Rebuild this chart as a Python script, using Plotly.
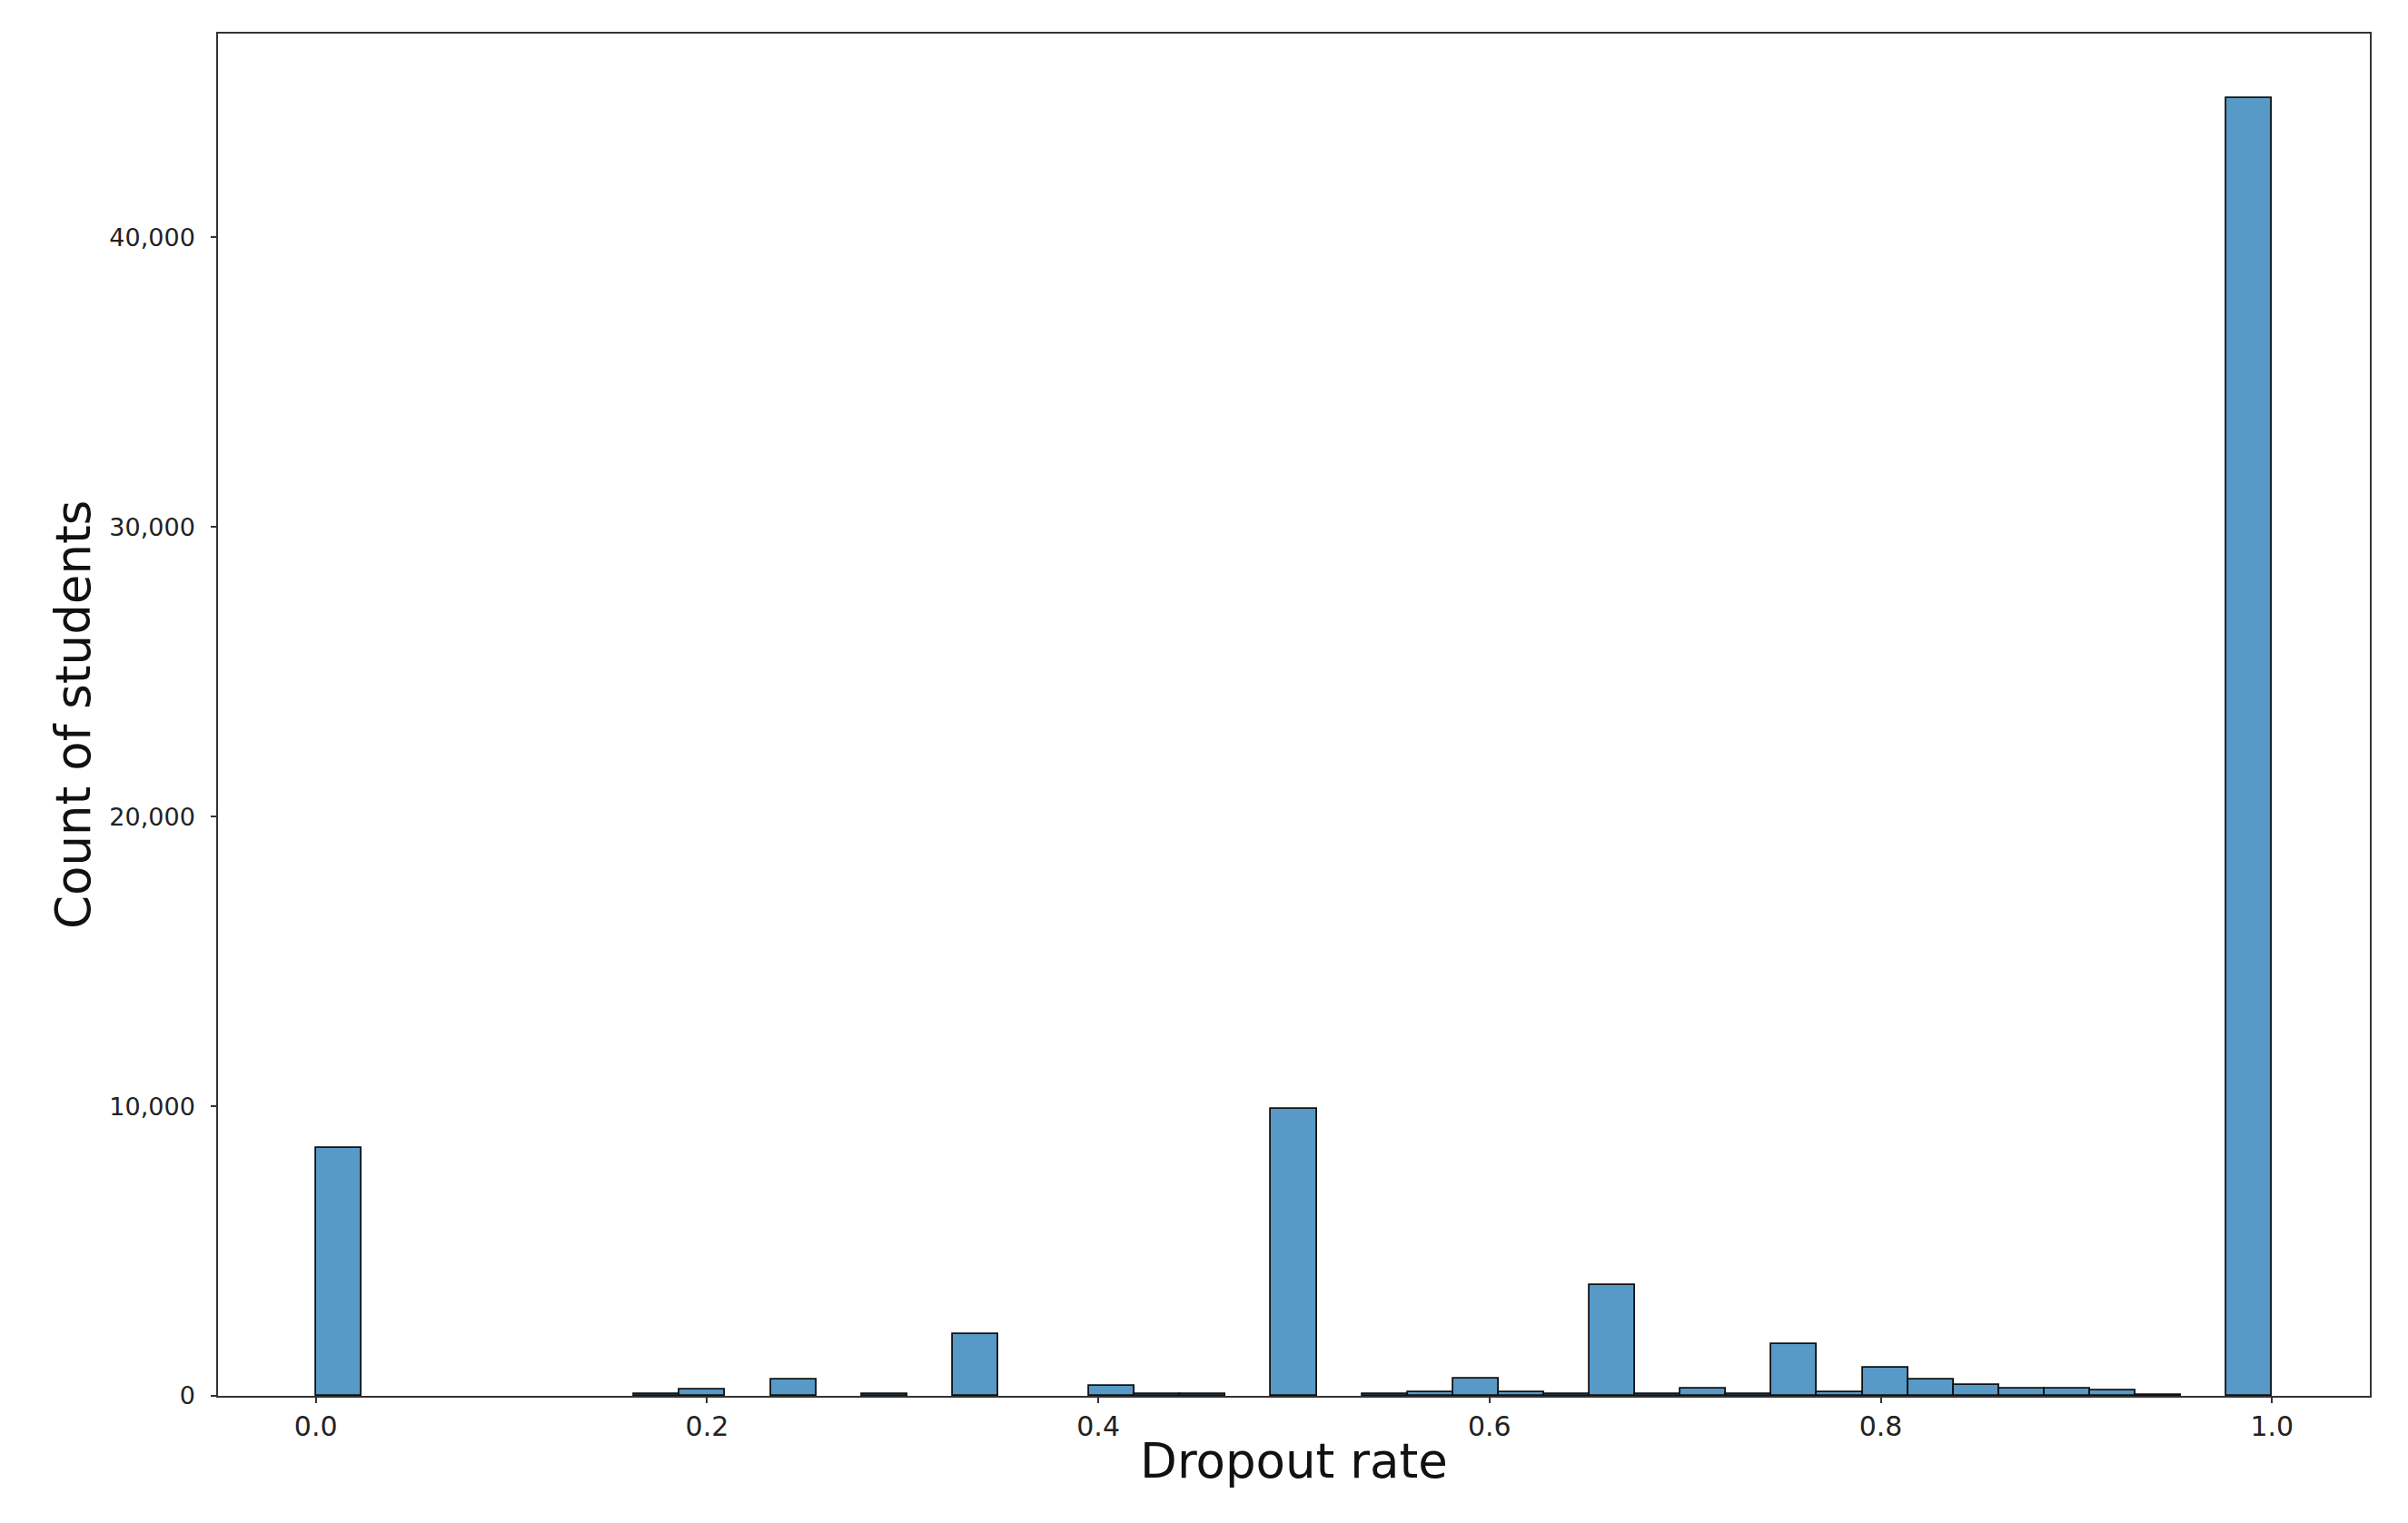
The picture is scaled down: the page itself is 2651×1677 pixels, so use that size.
import numpy as np
import plotly.graph_objects as go

# histogram of dropout rate, 43 equal bins over [0, 1]
n_bins = 43
counts = [
    8550, 0, 0, 0, 0, 0, 0, 60, 210, 0,      # bins 0-9
    580, 0, 60, 0, 2120, 0, 0, 330, 50, 50,  # bins 10-19
    0, 9920, 0, 50, 140, 590, 130, 50, 3820, 50,  # bins 20-29
    250, 50, 1800, 130, 960, 575, 385, 245, 245, 200,  # bins 30-39
    40, 0, 44800,                            # bins 40-42
]

edges = np.linspace(0, 1, n_bins + 1)
centers = (edges[:-1] + edges[1:]) / 2
bin_width = edges[1] - edges[0]
# empty bins are not drawn
heights = [c if c > 0 else None for c in counts]

fig = go.Figure(go.Bar(
    x=centers,
    y=heights,
    width=bin_width,
    marker=dict(color='rgba(31,119,180,0.75)', line=dict(color='#111111', width=1.8)),
))

font = 'DejaVu Sans, sans-serif'

# page body has an 8px margin, so the figure is a bit smaller than the window
fig.update_layout(
    width=2643,
    height=1669,
    paper_bgcolor='white',
    plot_bgcolor='white',
    margin=dict(l=232, r=42, t=29, b=140),
    showlegend=False,
    bargap=0,
    font=dict(family=font, color='#222222'),
)

fig.update_xaxes(
    range=[-0.05, 1.05],
    tickvals=[0, 0.2, 0.4, 0.6, 0.8, 1.0],
    tickformat='.1f',
    tickfont=dict(size=30, family=font, color='#222222'),
    ticks='outside', ticklen=6, tickwidth=1.5, tickcolor='#333333',
    showline=True, linecolor='#333333', linewidth=1.5, mirror=True,
    showgrid=False, zeroline=False,
    title=dict(text='Dropout rate', font=dict(size=53, family=font, color='#111111'), standoff=3),
)

fig.update_yaxes(
    range=[0, 47040],
    tickvals=[0, 10000, 20000, 30000, 40000],
    tickformat=',',
    tickfont=dict(size=27, family=font, color='#222222'),
    ticks='outside', ticklen=6, tickwidth=1.5, tickcolor='#333333',
    ticklabelstandoff=12,
    showline=True, linecolor='#333333', linewidth=1.5, mirror=True,
    showgrid=False, zeroline=False,
)

# y title as an annotation so it sits where the original has it
fig.add_annotation(
    text='Count of students',
    xref='paper', yref='paper', x=0, y=0.5,
    xshift=-160, xanchor='center', yanchor='middle',
    textangle=-90, showarrow=False,
    font=dict(size=53, family=font, color='#111111'),
)

fig.write_html("out.html")
